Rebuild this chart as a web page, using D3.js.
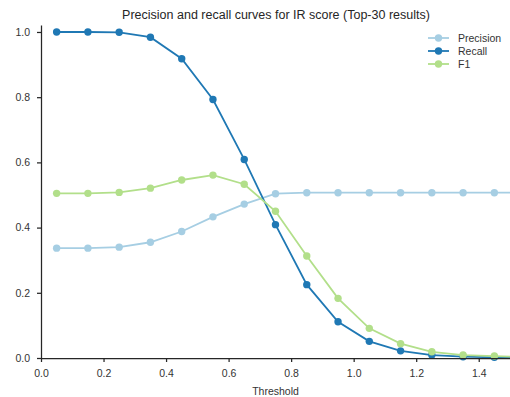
<!DOCTYPE html>
<html>
<head>
<meta charset="utf-8">
<script src="https://cdn.jsdelivr.net/npm/d3@7"></script>
<style>
  html, body { margin: 0; padding: 0; background: #fff; }
  svg { display: block; font-family: "Liberation Sans", Arial, sans-serif; }
</style>
</head>
<body>
<svg id="chart" width="510" height="397"></svg>
<script>
// Score thresholds (bin centres); the last bin lies past the visible x range
const thresholds = [0.05, 0.15, 0.25, 0.35, 0.45, 0.55, 0.65, 0.75, 0.85, 0.95, 1.05, 1.15, 1.25, 1.35, 1.45, 1.55];

const precision = [0.337, 0.337, 0.340, 0.355, 0.388, 0.433, 0.472, 0.504, 0.507, 0.507, 0.507, 0.507, 0.507, 0.507, 0.507, 0.507];
const recall    = [1.000, 1.000, 0.999, 0.984, 0.918, 0.793, 0.609, 0.409, 0.225, 0.111, 0.051, 0.022, 0.009, 0.004, 0.002, 0.001];
const f1        = [0.505, 0.505, 0.508, 0.521, 0.546, 0.561, 0.533, 0.450, 0.313, 0.183, 0.091, 0.044, 0.019, 0.009, 0.006, 0.003];

const seriesNames = ["Precision", "Recall", "F1"];
const seriesColors = ["#a6cee3", "#1f78b4", "#b2df8a"];
const xTicks = [0.0, 0.2, 0.4, 0.6, 0.8, 1.0, 1.2, 1.4];
const yTicks = [0.0, 0.2, 0.4, 0.6, 0.8, 1.0];

const series = [precision, recall, f1].map((vals, i) => ({
  name: seriesNames[i],
  color: seriesColors[i],
  points: thresholds.map((t, j) => ({ x: t, y: vals[j] }))
}));

const svg = d3.select("#chart");
const margin = { left: 41, right: 0, top: 25, bottom: 39 };
const W = 510, H = 397;

const x = d3.scaleLinear().domain([0, 1.5]).range([margin.left, W - margin.right]);
const y = d3.scaleLinear().domain([0, 1.0214]).range([H - margin.bottom, margin.top]);

const tickColor = "#262626";

// Plot area clip so the trailing bin is cut at the right edge
svg.append("defs").append("clipPath").attr("id", "plot-clip")
  .append("rect")
  .attr("x", x(0)).attr("y", y.range()[1] - 6)
  .attr("width", x(1.5) - x(0)).attr("height", y(0) - y.range()[1] + 12);

// Curves
const line = d3.line().x(d => x(d.x)).y(d => y(d.y));
const plot = svg.append("g").attr("clip-path", "url(#plot-clip)");

series.forEach(s => {
  plot.append("path")
    .datum(s.points)
    .attr("fill", "none")
    .attr("stroke", s.color)
    .attr("stroke-width", 1.8)
    .attr("d", line);
  plot.selectAll(null)
    .data(s.points)
    .enter().append("circle")
    .attr("cx", d => x(d.x))
    .attr("cy", d => y(d.y))
    .attr("r", 3.7)
    .attr("fill", s.color);
});

// Axes (left and bottom spines only, ticks outward)
const xAxis = d3.axisBottom(x).tickValues(xTicks).tickFormat(d3.format(".1f")).tickSize(4).tickPadding(8).tickSizeOuter(0);
const yAxis = d3.axisLeft(y).tickValues(yTicks).tickFormat(d3.format(".1f")).tickSize(4).tickPadding(7).tickSizeOuter(0);

const gx = svg.append("g").attr("transform", `translate(0,${y(0)})`).call(xAxis);
const gy = svg.append("g").attr("transform", `translate(${x(0)},0)`).call(yAxis);

[gx, gy].forEach(g => {
  g.select(".domain").attr("stroke", tickColor).attr("stroke-width", 1.25);
  g.selectAll(".tick line").attr("stroke", tickColor).attr("stroke-width", 1.25);
  g.selectAll(".tick text").attr("fill", "#333").attr("font-size", 10.5)
    .attr("font-family", "'Liberation Sans', Arial, sans-serif");
});

// Title
svg.append("text")
  .attr("x", 276).attr("y", 19)
  .attr("text-anchor", "middle")
  .attr("font-size", 12.5)
  .attr("fill", "#262626")
  .text("Precision and recall curves for IR score (Top-30 results)");

// X axis label
svg.append("text")
  .attr("x", x(0.75)).attr("y", 395)
  .attr("text-anchor", "middle")
  .attr("font-size", 10.5)
  .attr("fill", "#333")
  .text("Threshold");

// Legend
const legend = svg.append("g").attr("transform", "translate(428,38)");
series.forEach((s, i) => {
  const row = legend.append("g").attr("transform", `translate(0,${i * 13})`);
  row.append("line").attr("x1", 0).attr("x2", 21).attr("y1", 0).attr("y2", 0)
    .attr("stroke", s.color).attr("stroke-width", 1.8);
  row.append("circle").attr("cx", 10.5).attr("cy", 0).attr("r", 3.7).attr("fill", s.color);
  row.append("text").attr("x", 30).attr("y", 0).attr("dy", "0.35em")
    .attr("font-size", 10.5).attr("fill", "#333").text(s.name);
});
</script>
</body>
</html>
